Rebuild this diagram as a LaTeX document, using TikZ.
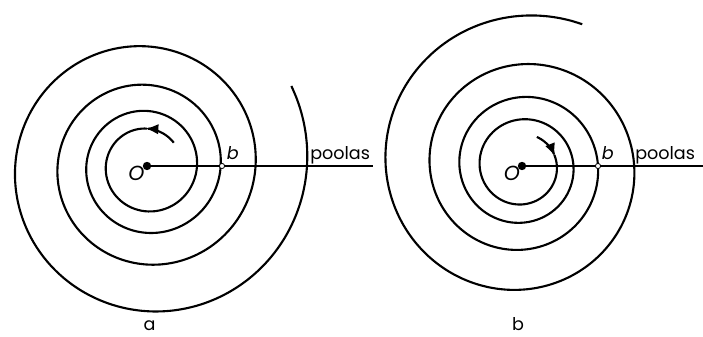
\documentclass[tikz,border=0pt]{standalone}
\usepackage{fontspec}
\setmainfont{Poppins}
\usetikzlibrary{arrows.meta,positioning}
\tikzset{
  curl/.style={line width=1.5pt, line join=round},            % spiral stroke
  axisln/.style={line width=1.3pt},                            % polar axis
  pole/.style={circle, fill=black, inner sep=0pt, minimum size=0.21cm},
  cross/.style={circle, draw=black, fill=white, line width=0.6pt, inner sep=0pt, minimum size=0.13cm},
  lbl/.style={font=\fontsize{12.5}{14}\selectfont, inner sep=0pt},
  turn/.style={-{Latex[length=9pt,width=7.5pt]}},             % sense of rotation
}

\begin{document}
\begin{tikzpicture}[x=0.025cm,y=0.025cm]
  \useasboundingbox (0,0) rectangle (703,336);
  \def\kA{0.0617}\def\kB{0.062}
  \coordinate (Oa) at (147,170);
  \coordinate (Ob) at (522,170);
  \coordinate (Ea) at (373,170);
  \coordinate (Eb) at (703,170);

  % a: opens anticlockwise
  \begin{scope}[shift={(Oa)}]
    \draw[curl,turn] plot[smooth,domain=41:92,samples=12] (\x:{50*exp(\kA*(\x-360)*pi/180)});
    \draw[curl] plot[smooth,domain=90:1469,samples=320] (\x:{50*exp(\kA*(\x-360)*pi/180)});
  \end{scope}
  % b: opens clockwise
  \begin{scope}[shift={(Ob)}]
    \draw[curl,turn] plot[smooth,domain=63:17,samples=12] (\x:{76*exp(-\kB*(\x+720)*pi/180)});
    \draw[curl] plot[smooth,domain=19:-1373,samples=320] (\x:{76*exp(-\kB*(\x+720)*pi/180)});
  \end{scope}

  \draw[axisln] (Oa) -- (Ea);
  \draw[axisln] (Ob) -- (Eb);

  \node[pole] (pa) at (Oa) {};
  \node[pole] (pb) at (Ob) {};
  \node[cross] (ca) at (222,170) {};
  \node[cross] (cb) at (598,170) {};

  \node[lbl, anchor=base, font=\fontsize{14.5}{16}\selectfont] (oa) at (136.5,155) {\itshape O};
  \node[lbl, anchor=base, font=\fontsize{14.5}{16}\selectfont] (ob) at (512,155) {\itshape O};
  \node[lbl, anchor=base west] (la) at (226.5,176) {\itshape b};
  \node[lbl, anchor=base west] (lb) at (601.5,176) {\itshape b};
  \node[lbl, anchor=base west] (qa) at (310,176) {poolas};
  \node[lbl, anchor=base west] (qb) at (635,176) {poolas};

  \node[lbl, anchor=base] (capa) at (149.5,6) {a};
  \node[lbl, anchor=base] (capb) at (518,6) {b};
\end{tikzpicture}
\end{document}
